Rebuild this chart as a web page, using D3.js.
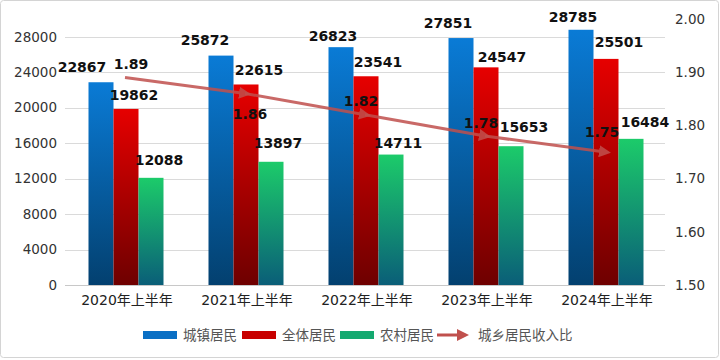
<!DOCTYPE html>
<html>
<head>
<meta charset="utf-8">
<script src="https://cdn.jsdelivr.net/npm/d3@7/dist/d3.min.js"></script>
<style>
  body { margin: 0; background: #fff; }
  svg { display: block; font-family: "DejaVu Sans", "Noto Sans CJK SC", sans-serif; }
</style>
</head>
<body>
<svg id="chart" width="720" height="360"></svg>
<script>
// data
var years = ["2020年上半年", "2021年上半年", "2022年上半年", "2023年上半年", "2024年上半年"];
var urban = [22867, 25872, 26823, 27851, 28785];
var allRes = [19862, 22615, 23541, 24547, 25501];
var rural = [12088, 13897, 14711, 15653, 16484];
var ratio = [1.89, 1.86, 1.82, 1.78, 1.75];
var leftTicks = [0, 4000, 8000, 12000, 16000, 20000, 24000, 28000];
var rightTicks = [1.5, 1.6, 1.7, 1.8, 1.9, 2.0];
var seriesNames = ["城镇居民", "全体居民", "农村居民"];
var lineName = "城乡居民收入比";

var svg = d3.select("#chart");
var W = 720, H = 360;
var plot = {left: 65, right: 665, top: 19, bottom: 285};

// outer frame
svg.append("rect")
  .attr("x", 0.5).attr("y", 0.5)
  .attr("width", W - 2).attr("height", H - 3)
  .attr("rx", 3)
  .style("fill", "#fff")
  .style("stroke", "#d4d4d4");

var x = d3.scaleBand().domain(years).range([plot.left, plot.right]).paddingInner(0).paddingOuter(0);
var yL = d3.scaleLinear().domain([0, 30000]).range([plot.bottom, plot.top]);
var yR = d3.scaleLinear().domain([1.5, 2.0]).range([plot.bottom, plot.top]);
var sub = d3.scaleBand().domain([0, 1, 2]).range([0, 75]);
var groupOffset = (x.bandwidth() - 75) / 2 + 1;

// gradients for each series
var defs = svg.append("defs");
var grads = [
  {id: "gBlue", top: "#0a7bd6", bottom: "#03406f"},
  {id: "gRed", top: "#e60000", bottom: "#6e0000"},
  {id: "gGreen", top: "#1ccb6a", bottom: "#0a5e78"}
];
grads.forEach(function(g) {
  var lg = defs.append("linearGradient").attr("id", g.id)
    .attr("x1", 0).attr("y1", 0).attr("x2", 0).attr("y2", 1);
  lg.append("stop").attr("offset", "0%").attr("stop-color", g.top);
  lg.append("stop").attr("offset", "100%").attr("stop-color", g.bottom);
});
var marker = defs.append("marker").attr("id", "arrow")
  .attr("viewBox", "0 0 10 10").attr("refX", 5).attr("refY", 5)
  .attr("markerWidth", 4).attr("markerHeight", 4)
  .attr("markerUnits", "strokeWidth")
  .attr("orient", "auto");
marker.append("path").attr("d", "M0,0 L10,5 L0,10 z").style("fill", "#c0504d");

// gridlines
svg.append("g").selectAll("line")
  .data(leftTicks)
  .enter().append("line")
  .attr("x1", plot.left).attr("x2", plot.right)
  .attr("y1", function(d) { return Math.round(yL(d)) + 0.5; })
  .attr("y2", function(d) { return Math.round(yL(d)) + 0.5; })
  .style("stroke", function(d) { return d === 0 ? "#c8c8c8" : "#dadada"; })
  .style("stroke-width", 1);

// left axis
var axL = svg.append("g").attr("transform", "translate(" + plot.left + ",0)")
  .call(d3.axisLeft(yL).tickValues(leftTicks).tickSize(0).tickPadding(8).tickFormat(d3.format("d")));
axL.select(".domain").remove();
axL.selectAll("text").style("font-size", "13.5px").style("fill", "#333")
  .style("font-family", "'DejaVu Sans', sans-serif");

// right axis
var axR = svg.append("g").attr("transform", "translate(" + plot.right + ",0)")
  .call(d3.axisRight(yR).tickValues(rightTicks).tickSize(0).tickPadding(10).tickFormat(d3.format(".2f")));
axR.select(".domain").remove();
axR.selectAll("text").style("font-size", "13.5px").style("fill", "#333")
  .style("font-family", "'DejaVu Sans', sans-serif");

// x axis labels
var axB = svg.append("g").attr("transform", "translate(0," + plot.bottom + ")")
  .call(d3.axisBottom(x).tickSize(0).tickPadding(10));
axB.select(".domain").remove();
axB.selectAll("text").style("font-size", "14px").style("fill", "#222")
  .style("font-family", "'DejaVu Sans', 'Noto Sans CJK SC', sans-serif")
  .attr("dx", 2);

// bars
var series = [urban, allRes, rural];
series.forEach(function(vals, si) {
  var g = svg.append("g");
  g.selectAll("rect").data(vals).enter().append("rect")
    .attr("x", function(d, i) { return x(years[i]) + groupOffset + sub(si); })
    .attr("y", function(d) { return yL(d); })
    .attr("width", sub.bandwidth())
    .attr("height", function(d) { return plot.bottom - yL(d); })
    .style("fill", "url(#" + grads[si].id + ")");
});

// ratio line, one segment per step with an arrowhead at its end
var lineColor = "#c0504d";
var segs = d3.range(ratio.length - 1).map(function(i) { return [i, i + 1]; });
var lineGen = d3.line()
  .x(function(i) { return x(years[i]) + x.bandwidth() / 2; })
  .y(function(i) { return yR(ratio[i]); });
svg.append("g").selectAll("path").data(segs).enter().append("path")
  .attr("d", lineGen)
  .style("fill", "none")
  .style("stroke", lineColor)
  .style("stroke-width", 3)
  .style("opacity", 0.85)
  .attr("marker-end", "url(#arrow)");

// bar value labels (hand-placed nudges, like the original)
var labelDx = [[-19, -16, -8, -13, -8], [8, 13, 12, 16, 13], [8, 7, 7, 13, 14]];
var labelDy = [[-10, -11, -6, -10, -8], [-9, -9, -9, -5, -12], [-13, -14, -7, -14, -12]];
series.forEach(function(vals, si) {
  svg.append("g").selectAll("text").data(vals).enter().append("text")
    .attr("x", function(d, i) { return x(years[i]) + groupOffset + sub(si) + sub.bandwidth() / 2 + labelDx[si][i]; })
    .attr("y", function(d, i) { return yL(d) + labelDy[si][i]; })
    .attr("text-anchor", "middle")
    .style("font-size", "14px")
    .style("font-weight", "bold")
    .style("fill", "#111")
    .text(function(d) { return d; });
});

// ratio labels
var ratioDx = [6, 5, -4, -4, -3];
var ratioDy = [-9, 26, -9, -8, -15];
svg.append("g").selectAll("text").data(ratio).enter().append("text")
  .attr("x", function(d, i) { return x(years[i]) + x.bandwidth() / 2 + ratioDx[i]; })
  .attr("y", function(d, i) { return yR(d) + ratioDy[i]; })
  .attr("text-anchor", "middle")
  .style("font-size", "14px")
  .style("font-weight", "bold")
  .style("fill", "#111")
  .text(function(d) { return d.toFixed(2); });

// legend
var legend = svg.append("g").attr("transform", "translate(0,335)");
var legItems = [
  {name: seriesNames[0], type: "bar", fill: "#0a6fc4", x: 143},
  {name: seriesNames[1], type: "bar", fill: "#c80000", x: 242},
  {name: seriesNames[2], type: "bar", fill: "#14a970", x: 340},
  {name: lineName, type: "line", fill: lineColor, x: 437}
];
legItems.forEach(function(it) {
  if (it.type === "bar") {
    legend.append("rect").attr("x", it.x).attr("y", -4).attr("width", 34).attr("height", 8)
      .style("fill", it.fill);
  } else {
    legend.append("line").attr("x1", it.x).attr("x2", it.x + 26).attr("y1", 0).attr("y2", 0)
      .style("stroke", it.fill).style("stroke-width", 3).attr("marker-end", "url(#arrow)");
  }
  legend.append("text").attr("x", it.x + (it.type === "bar" ? 40 : 41)).attr("y", 5)
    .style("font-size", "13.5px")
    .style("fill", "#555")
    .style("font-family", "'Noto Sans CJK SC', sans-serif")
    .text(it.name);
});
</script>
</body>
</html>
